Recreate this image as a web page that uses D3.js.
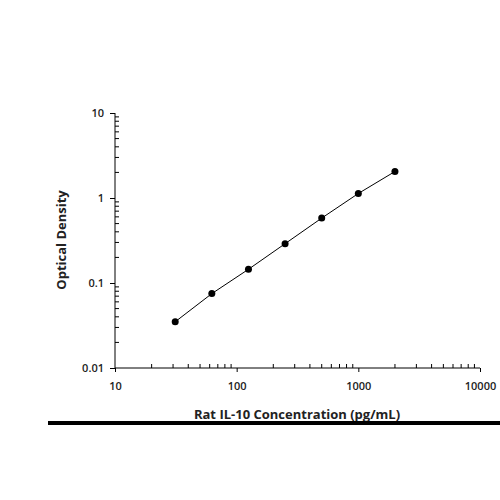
<!DOCTYPE html><html><head><meta charset="utf-8"><script src="https://cdn.jsdelivr.net/npm/d3@7"></script>
<style>body{margin:0;background:#fff}text{font-family:"Open Sans",sans-serif}</style></head><body>
<svg width="500" height="500"></svg>
<script>
const conc=[31.25,62.5,125,250,500,1000,2000];
const od=[0.035,0.075,0.145,0.29,0.58,1.13,2.05];
const xTicks=[10,100,1000,10000];
const yTicks=[0.01,0.1,1,10];
const svg=d3.select("svg");
const x=d3.scaleLog().domain([10,10000]).range([115,480]);
const y=d3.scaleLog().domain([0.01,10]).range([368,113]);
const g=svg.append("g");
// minor ticks
const xm=[],ym=[];
for(let d=10;d<10000;d*=10)for(let k=2;k<10;k++)xm.push(d*k);
for(let d=0.01;d<10;d*=10)for(let k=2;k<10;k++)ym.push(d*k);
g.selectAll(".xm").data(xm).join("line").attr("x1",d=>x(d)).attr("x2",d=>x(d)).attr("y1",368).attr("y2",364).attr("stroke","#000");
g.selectAll(".ym").data(ym).join("line").attr("y1",d=>y(d)).attr("y2",d=>y(d)).attr("x1",115).attr("x2",119).attr("stroke","#000");
svg.append("g").attr("transform","translate(0,368)").call(d3.axisBottom(x).tickValues(xTicks).tickFormat(d3.format("d")).tickSize(4).tickPadding(10))
 .call(a=>a.select(".domain").attr("d","M115,0H480")).selectAll("text").attr("font-size",11).attr("font-weight",600).attr("fill","#222");
svg.append("g").attr("transform","translate(115,0)").call(d3.axisLeft(y).tickValues(yTicks).tickFormat(d=>String(+d.toPrecision(1))).tickSize(5).tickPadding(6))
 .call(a=>a.select(".domain").attr("d","M0,113V368")).selectAll("text").attr("font-size",11).attr("font-weight",600).attr("fill","#222");
svg.append("path").datum(conc.map((c,i)=>[c,od[i]])).attr("fill","none").attr("stroke","#000").attr("stroke-width",1)
 .attr("d",d3.line().x(d=>x(d[0])).y(d=>y(d[1])));
svg.selectAll(".pt").data(conc).join("circle").attr("cx",d=>x(d)).attr("cy",(d,i)=>y(od[i])).attr("r",3.5).attr("fill","#000");
svg.append("text").attr("x",297).attr("y",419).attr("text-anchor","middle").attr("font-size",13).attr("font-weight",700).attr("fill","#222").text("Rat IL-10 Concentration (pg/mL)");
svg.append("text").attr("transform","translate(66,240) rotate(-90)").attr("text-anchor","middle").attr("font-size",13).attr("font-weight",700).attr("fill","#222").text("Optical Density");
svg.append("rect").attr("x",48).attr("y",421).attr("width",452).attr("height",4).attr("fill","#000");
</script></body></html>
